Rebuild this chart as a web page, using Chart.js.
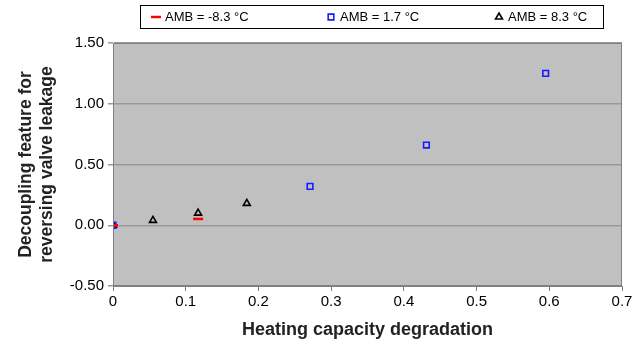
<!DOCTYPE html>
<html>
<head>
<meta charset="utf-8">
<script src="https://cdn.jsdelivr.net/npm/chart.js@4/dist/chart.umd.min.js"></script>
<style>
  html, body { margin: 0; padding: 0; background: #fff; }
  #wrap { width: 640px; height: 345px; }
</style>
</head>
<body>
<div id="wrap"><canvas id="chart"></canvas></div>
<script>
// Series data
const ambColdX = [0, 0.117];
const ambColdY = [0, 0.052];
const ambMildX = [0, 0.271, 0.431, 0.595];
const ambMildY = [0, 0.32, 0.66, 1.25];
const ambWarmX = [0, 0.055, 0.117, 0.184];
const ambWarmY = [0, 0.04, 0.10, 0.18];

const seriesLabels = ['AMB = -8.3 °C', 'AMB = 1.7 °C', 'AMB = 8.3 °C'];

const FONT = 'Liberation Sans, Arial, sans-serif';

function toPoints(xs, ys) {
    return xs.map((x, i) => ({ x: x, y: ys[i] }));
}

// Gray plot area background + frame
const plotBackground = {
    id: 'plotBackground',
    beforeDraw(chart) {
        const { ctx, chartArea } = chart;
        ctx.save();
        ctx.fillStyle = '#c0c0c0';
        ctx.fillRect(chartArea.left, chartArea.top, chartArea.right - chartArea.left, chartArea.bottom - chartArea.top);
        ctx.restore();
    },
    afterDatasetsDraw(chart) {
        const { ctx, chartArea } = chart;
        ctx.save();
        ctx.strokeStyle = '#808080';
        ctx.lineWidth = 1;
        ctx.strokeRect(chartArea.left + 0.5, chartArea.top + 0.5, chartArea.right - chartArea.left - 1, chartArea.bottom - chartArea.top - 1);
        ctx.restore();
    }
};

// Boxed legend across the top, drawn with the datasets' own styles
const boxedLegend = {
    id: 'boxedLegend',
    afterDraw(chart) {
        const ctx = chart.ctx;
        const itemX = [156, 331, 499];
        const midY = 17;
        ctx.save();
        ctx.strokeStyle = '#000';
        ctx.lineWidth = 1;
        ctx.strokeRect(140.5, 5.5, 463, 23);
        ctx.font = '13px ' + FONT;
        ctx.textBaseline = 'middle';
        chart.data.datasets.forEach((ds, i) => {
            ctx.strokeStyle = ds.borderColor;
            ctx.fillStyle = ds.backgroundColor;
            ctx.lineWidth = ds.pointBorderWidth;
            Chart.helpers.drawPoint(ctx, {
                pointStyle: ds.pointStyle,
                radius: ds.pointRadius,
                borderWidth: ds.pointBorderWidth,
                rotation: 0
            }, itemX[i], midY);
            ctx.fillStyle = '#000';
            ctx.fillText(ds.label, itemX[i] + 9, midY);
        });
        ctx.restore();
    }
};

const ctx = document.getElementById('chart');
new Chart(ctx, {
    type: 'scatter',
    data: {
        datasets: [
            {
                label: seriesLabels[0],
                data: toPoints(ambColdX, ambColdY),
                pointStyle: 'line',
                borderColor: '#ff0000',
                backgroundColor: '#ff0000',
                pointRadius: 5,
                pointBorderWidth: 2.5,
                pointHoverRadius: 5
            },
            {
                label: seriesLabels[1],
                data: toPoints(ambMildX, ambMildY),
                pointStyle: 'rect',
                borderColor: '#1a1aff',
                backgroundColor: 'rgba(0,0,0,0)',
                pointRadius: 4,
                pointBorderWidth: 1.6,
                pointHoverRadius: 4
            },
            {
                label: seriesLabels[2],
                data: toPoints(ambWarmX, ambWarmY),
                pointStyle: 'triangle',
                borderColor: '#000000',
                backgroundColor: 'rgba(0,0,0,0)',
                pointRadius: 4,
                pointBorderWidth: 1.6,
                pointHoverRadius: 4
            }
        ]
    },
    options: {
        responsive: true,
        maintainAspectRatio: false,
        animation: false,
        layout: { padding: { left: 16, right: 18, top: 43, bottom: 4 } },
        plugins: {
            legend: { display: false },
            tooltip: { enabled: false }
        },
        scales: {
            x: {
                type: 'linear',
                min: 0,
                max: 0.7,
                ticks: {
                    stepSize: 0.1,
                    color: '#000',
                    padding: 2,
                    font: { family: FONT, size: 15 },
                    callback: v => (Math.round(v * 10) / 10).toString()
                },
                grid: { drawOnChartArea: false, tickLength: 5, color: '#808080' },
                border: { color: '#808080' },
                title: {
                    display: true,
                    text: 'Heating capacity degradation',
                    color: '#222',
                    padding: { top: 2, bottom: 0 },
                    font: { family: FONT, size: 18, weight: 'bold' }
                },
                afterFit: s => { s.height = 55; }
            },
            y: {
                type: 'linear',
                min: -0.5,
                max: 1.5,
                ticks: {
                    stepSize: 0.5,
                    color: '#000',
                    padding: 4,
                    font: { family: FONT, size: 15 },
                    callback: v => v.toFixed(2)
                },
                grid: { color: '#999999', lineWidth: 1.5, tickLength: 5 },
                border: { color: '#808080' },
                title: {
                    display: true,
                    text: ['Decoupling feature for', 'reversing valve leakage'],
                    color: '#222',
                    padding: { top: 0, bottom: 4 },
                    font: { family: FONT, size: 17.5, weight: 'bold' }
                },
                afterFit: s => { s.width = 97; }
            }
        }
    },
    plugins: [plotBackground, boxedLegend]
});
</script>
</body>
</html>
